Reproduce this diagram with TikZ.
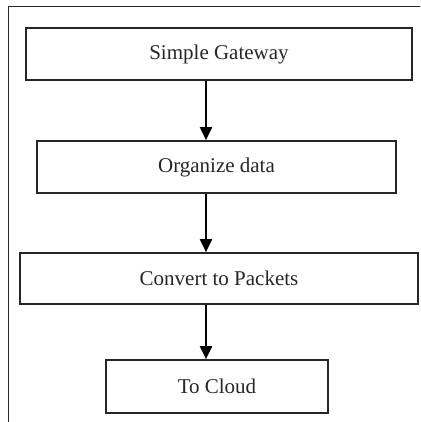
\documentclass[tikz,border=0pt]{standalone}
\usepackage{fontspec}
\setmainfont{Liberation Serif}
\usetikzlibrary{arrows.meta}
\begin{document}
\begin{tikzpicture}[x=1pt,y=-1pt,
  stepbox/.style={draw=black!85,line width=1.7pt,inner sep=0pt,font=\fontsize{21}{25}\selectfont,text=black!85},
  arr/.style={draw=black,line width=2pt,-{Triangle[length=13pt,width=12pt]}}]
\useasboundingbox (0,0) rectangle (420,422);
\begin{scope}
\clip (0,0) rectangle (420,422);
\draw[line width=1.7pt,black!85] (8.5,440) -- (8.5,6.5) -- (440,6.5);
\end{scope}
\node[stepbox,minimum width=386pt,minimum height=52pt] (b1) at (219,54) {Simple Gateway};
\node[stepbox,minimum width=359pt,minimum height=52pt] (b2) at (216.5,167) {Organize data};
\node[stepbox,minimum width=398pt,minimum height=51pt] (b3) at (219,278.5) {Convert to Packets};
\node[stepbox,minimum width=222pt,minimum height=53pt] (b4) at (217,386.5) {To Cloud};
\coordinate (ax) at (206,0);
\draw[arr] (b1.south -| ax) -- (b2.north -| ax);
\draw[arr] (b2.south -| ax) -- (b3.north -| ax);
\draw[arr] (b3.south -| ax) -- (b4.north -| ax);
\end{tikzpicture}
\end{document}
